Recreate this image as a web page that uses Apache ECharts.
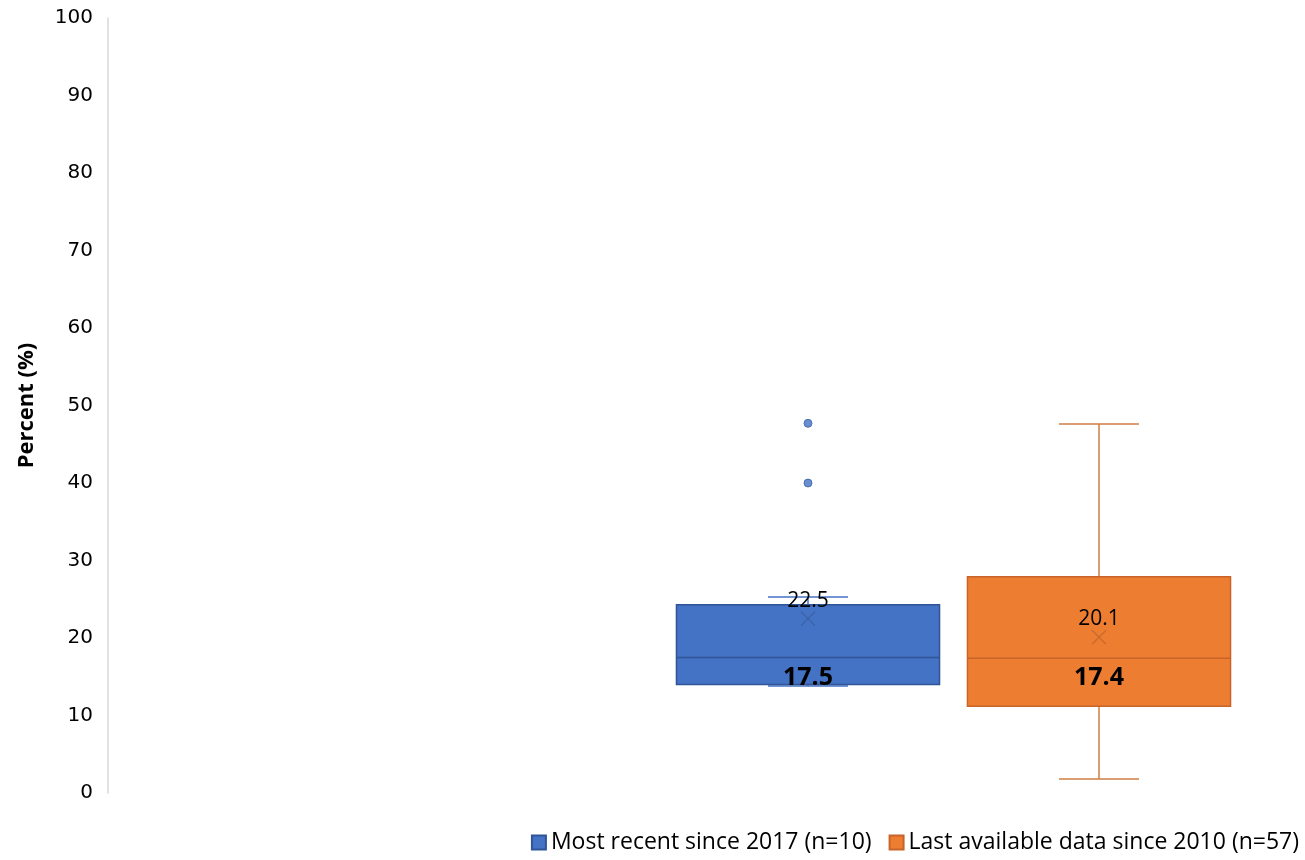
<!DOCTYPE html>
<html><head><meta charset="utf-8">
<script src="https://cdn.jsdelivr.net/npm/echarts@6/dist/echarts.min.js"></script>
<style>html,body{margin:0;padding:0;background:#fff}#c{width:1305px;height:860px}</style>
</head><body><div id="c"></div>
<script>
const categories = ['Most recent since 2017 (n=10)', 'Last available data since 2010 (n=57)'];
const yTicks = [0, 100, 10];
// [categoryIndex, min, q1, median, q3, max, mean]
const recentStats = [[0, 13.8, 14.0, 17.5, 24.3, 25.3, 22.5]];
const lastStats = [[1, 1.8, 11.2, 17.4, 27.9, 47.6, 20.1]];
const recentOutliers = [[0, 40.0], [0, 47.7]];

const styles = [
  {fill: '#4472C4', border: '#2F5597', median: '#2F5597', whisker: '#4472C4', mean: '#3A62A8'},
  {fill: '#ED7D31', border: '#C8642A', median: '#C8642A', whisker: '#CF7E45', mean: '#C96A2E'}
];

function makeRender(st){
  return function(params, api){
    const cat = api.value(0);
    const band = api.size([1, 0])[0];
    const bw = band * 0.904, cw = band * 0.275;
    const pMin = api.coord([cat, api.value(1)]);
    const pQ1 = api.coord([cat, api.value(2)]);
    const pMed = api.coord([cat, api.value(3)]);
    const pQ3 = api.coord([cat, api.value(4)]);
    const pMax = api.coord([cat, api.value(5)]);
    const pMean = api.coord([cat, api.value(6)]);
    const x = pMed[0];
    const ls = {stroke: st.whisker, lineWidth: 1.5};
    const ch = [
      {type: 'line', shape: {x1: x, y1: pMax[1], x2: x, y2: pQ3[1]}, style: ls},
      {type: 'line', shape: {x1: x, y1: pQ1[1], x2: x, y2: pMin[1]}, style: ls},
      {type: 'line', shape: {x1: x - cw/2, y1: pMax[1], x2: x + cw/2, y2: pMax[1]}, style: ls},
      {type: 'line', shape: {x1: x - cw/2, y1: pMin[1], x2: x + cw/2, y2: pMin[1]}, style: ls},
      {type: 'rect', shape: {x: x - bw/2, y: pQ3[1], width: bw, height: pQ1[1] - pQ3[1]},
        style: {fill: st.fill, stroke: st.border, lineWidth: 1.5}},
      {type: 'line', shape: {x1: x - bw/2, y1: pMed[1], x2: x + bw/2, y2: pMed[1]}, style: {stroke: st.median, lineWidth: 1.5}},
      {type: 'line', shape: {x1: x - 7, y1: pMean[1] - 7, x2: x + 7, y2: pMean[1] + 7}, style: {stroke: st.mean, lineWidth: 1.2}},
      {type: 'line', shape: {x1: x + 7, y1: pMean[1] - 7, x2: x - 7, y2: pMean[1] + 7}, style: {stroke: st.mean, lineWidth: 1.2}},
      {type: 'text', x: x, y: pMean[1] - 18, style: {text: api.value(6).toFixed(1), fill: '#000',
        font: '21px "Open Sans", sans-serif', align: 'center', verticalAlign: 'middle'}},
      {type: 'text', x: x, y: pMed[1] + 20, style: {text: api.value(3).toFixed(1), fill: '#000',
        font: 'bold 25px "Open Sans", sans-serif', align: 'center', verticalAlign: 'middle'}}
    ];
    return {type: 'group', children: ch};
  };
}

const chart = echarts.init(document.getElementById('c'), null, {renderer: 'canvas'});
chart.setOption({
  animation: false,
  grid: [
    {left: 108, right: 5, top: 18, bottom: 67},
    {left: 662.5, right: 60.5, top: 18, bottom: 67}
  ],
  xAxis: [
    {gridIndex: 0, type: 'value', show: false, min: 0, max: 1},
    {gridIndex: 1, type: 'category', data: categories, show: false}
  ],
  yAxis: [
    {gridIndex: 0, type: 'value', min: yTicks[0], max: yTicks[1], interval: yTicks[2],
      name: 'Percent (%)', nameLocation: 'middle', nameGap: 70,
      nameTextStyle: {fontFamily: '"Open Sans"', fontWeight: 'bold', fontSize: 22, color: '#000'},
      axisLine: {show: true, lineStyle: {color: '#D9D9D9', width: 1.5}},
      axisTick: {show: false}, splitLine: {show: false},
      axisLabel: {fontFamily: 'DejaVu Sans', fontSize: 20, color: '#000', margin: 15}},
    {gridIndex: 1, type: 'value', min: yTicks[0], max: yTicks[1], show: false}
  ],
  legend: {
    data: categories, right: 1, top: 826, itemWidth: 14, itemHeight: 14, itemGap: 17,
    icon: 'rect',
    textStyle: {fontFamily: '"Open Sans"', fontSize: 23, color: '#000'}
  },
  series: [
    {name: categories[0], type: 'custom', xAxisIndex: 1, yAxisIndex: 1, data: recentStats,
      renderItem: makeRender(styles[0]),
      itemStyle: {color: styles[0].fill, borderColor: styles[0].border, borderWidth: 1}},
    {name: categories[1], type: 'custom', xAxisIndex: 1, yAxisIndex: 1, data: lastStats,
      renderItem: makeRender(styles[1]),
      itemStyle: {color: styles[1].fill, borderColor: styles[1].border, borderWidth: 1}},
    {name: 'outliers', type: 'scatter', xAxisIndex: 1, yAxisIndex: 1, data: recentOutliers,
      symbolSize: 8, itemStyle: {color: '#4472C4', borderColor: '#3A62A8', borderWidth: 1}}
  ]
});
</script></body></html>
